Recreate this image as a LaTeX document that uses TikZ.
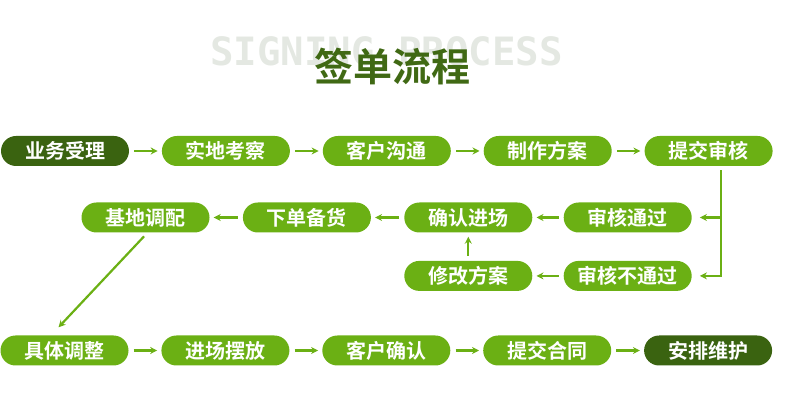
\documentclass[tikz,border=0pt]{standalone}
\usepackage{fontspec}
\setmainfont{Noto Sans CJK SC}[BoldFont={Noto Sans CJK SC Bold}]
\newfontfamily\monofont{DejaVu Sans Mono}
\usetikzlibrary{arrows.meta,positioning}

\definecolor{leaf}{RGB}{107,176,20}
\definecolor{forest}{RGB}{58,99,16}
\definecolor{titlegreen}{RGB}{64,105,20}
\definecolor{ghost}{RGB}{228,232,226}

\begin{document}
\begin{tikzpicture}[
  x=1pt,y=1pt,
  stepbox/.style={fill=leaf,text=white,rounded corners=15pt,minimum width=128pt,minimum height=30pt,
    inner sep=0pt,font=\fontsize{20pt}{20pt}\selectfont\bfseries},
  endbox/.style={stepbox,fill=forest},
  flow/.style={-{Stealth[length=7pt,width=7pt]},draw=leaf,line width=2.2pt,shorten <=5pt,shorten >=4pt},
]
  \useasboundingbox (0,0) rectangle (787,415);

  \node[text=ghost,font=\monofont\bfseries\fontsize{39pt}{39pt}\selectfont] (en) at (386.5,364) {SIGNING PROCESS};
  \node[text=titlegreen,font=\fontsize{39pt}{39pt}\selectfont\bfseries] (title) at (392.5,348) {签单流程};

  % row 1
  \node[endbox] (sl) at (65,264) {业务受理};
  \node[stepbox,right=32.5pt of sl] (kc) {实地考察};
  \node[stepbox,right=32.5pt of kc] (gt) {客户沟通};
  \node[stepbox,right=32.5pt of gt] (fa) {制作方案};
  \node[stepbox,right=32.5pt of fa] (sh) {提交审核};

  % row 2 and 3
  \node[stepbox] (tp) at (145.5,197.5) {基地调配};
  \node[stepbox,right=33pt of tp] (bh) {下单备货};
  \node[stepbox,right=33pt of bh] (qr) {确认进场};
  \node[stepbox,right=31pt of qr] (tg) {审核通过};
  \node[stepbox,below=28pt of qr] (xg) {修改方案};
  \node[stepbox,below=28pt of tg] (btg) {审核不通过};

  % row 4
  \node[stepbox] (tz) at (64.5,64.5) {具体调整};
  \node[stepbox,right=32.5pt of tz] (bf) {进场摆放};
  \node[stepbox,right=32.5pt of bf] (kq) {客户确认};
  \node[stepbox,right=32.5pt of kq] (ht) {提交合同};
  \node[endbox,right=32.5pt of ht] (wh) {安排维护};

  \draw[flow] (sl) -- (kc);
  \draw[flow] (kc) -- (gt);
  \draw[flow] (gt) -- (fa);
  \draw[flow] (fa) -- (sh);

  \coordinate (drop) at ([xshift=12.5pt]sh.south);
  \draw[flow,shorten <=4pt,shorten >=8pt] (drop) |- (tg.east);
  \draw[flow,shorten <=4pt,shorten >=8pt] (drop) |- (btg.east);
  \draw[flow] (tg) -- (qr);
  \draw[flow] (btg) -- (xg);
  \draw[flow] (xg) -- (qr);
  \draw[flow] (qr) -- (bh);
  \draw[flow] (bh) -- (tp);

  \coordinate (bend) at ([xshift=-6pt,yshift=8pt]tz.north);
  \draw[flow,shorten <=5pt,shorten >=0pt] ([xshift=2pt]tp.south) -- (bend);

  \draw[flow] (tz) -- (bf);
  \draw[flow] (bf) -- (kq);
  \draw[flow] (kq) -- (ht);
  \draw[flow] (ht) -- (wh);
\end{tikzpicture}
\end{document}
